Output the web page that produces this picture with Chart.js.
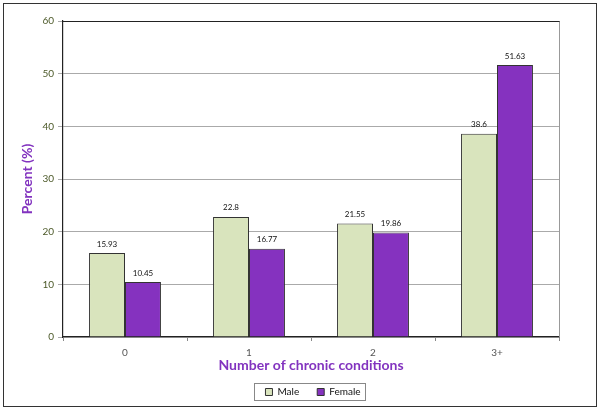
<!DOCTYPE html>
<html><head><meta charset="utf-8">
<script src="https://cdn.jsdelivr.net/npm/chart.js@4"></script>
<style>
html,body{margin:0;padding:0;background:#fff;}
#wrap{position:relative;width:600px;height:411px;}
#frame{position:absolute;left:3px;top:3px;width:592px;height:402px;border:1.5px solid #333;pointer-events:none;}
canvas{position:absolute;left:0;top:0;}
</style></head>
<body>
<div id="wrap"><canvas id="c" width="600" height="411"></canvas><div id="frame"></div></div>
<script>
const categories = ["0","1","2","3+"];
const maleValues = [15.93,22.8,21.55,38.6];
const femaleValues = [10.45,16.77,19.86,51.63];
const yTicks = [0,10,20,30,40,50,60];

const FONT = "Lato, 'Open Sans', sans-serif";
const LEG_PAD = 18;

const labelPlugin = {
  id:'labels',
  afterDatasetsDraw(chart){
    const ctx = chart.ctx;
    ctx.save();
    ctx.font = "8px " + FONT;
    ctx.fillStyle = "#111";
    ctx.textAlign = "center";
    ctx.textBaseline = "bottom";
    chart.data.datasets.forEach((ds,i)=>{
      chart.getDatasetMeta(i).data.forEach((bar,j)=>{
        ctx.fillText(String(ds.data[j]), bar.x, bar.y - 5);
      });
    });
    ctx.restore();
  }
};
const legendShift = {
  id:'legendShift',
  afterLayout(chart){
    const L = chart.legend, a = chart.chartArea;
    if (!L) return;
    const dx = (a.left + a.right)/2 + 2 - (L.left + L.right)/2;
    L.left += dx; L.right += dx;
  }
};
const framePlugin = {
  id:'frame',
  afterDraw(chart){
    const a = chart.chartArea, ctx = chart.ctx;
    ctx.save();
    ctx.strokeStyle = "#999"; ctx.lineWidth = 1;
    ctx.beginPath(); ctx.moveTo(a.right+0.5,a.top); ctx.lineTo(a.right+0.5,a.bottom); ctx.stroke();
    ctx.strokeStyle = "#222"; ctx.lineWidth = 1.2;
    ctx.beginPath(); ctx.moveTo(a.left,a.top+0.5); ctx.lineTo(a.right+0.5,a.top+0.5); ctx.stroke();
    const L = chart.legend, hb = L.legendHitBoxes;
    if (hb && hb.length){
      const itemsW = hb.reduce((s,b)=>s+b.width,0) + LEG_PAD*(hb.length-1);
      const cx = (L.left + L.right)/2;
      const x0 = cx - itemsW/2 - 11;
      const w = itemsW + 16;
      const yc = hb[0].top + hb[0].height/2;
      ctx.strokeStyle = "#888"; ctx.lineWidth = 1;
      ctx.strokeRect(Math.round(x0)+0.5, Math.round(yc-9)+0.5, Math.round(w), 17);
    }
    ctx.restore();
  }
};

new Chart(document.getElementById('c'), {
  type:'bar',
  data:{
    labels: categories,
    datasets:[
      {label:'Male', data: maleValues, backgroundColor:'#d9e4bd', borderColor:'#333', borderWidth:1},
      {label:'Female', data: femaleValues, backgroundColor:'#8532bf', borderColor:'#333', borderWidth:1}
    ]
  },
  options:{
    responsive:false, animation:false,
    layout:{padding:{left:15, top:21, right:41, bottom:4}},
    datasets:{bar:{categoryPercentage:0.58, barPercentage:1.0}},
    plugins:{
      legend:{
        position:'bottom',
        labels:{font:{family:FONT,size:10}, color:'#111', boxWidth:7, boxHeight:7, padding:LEG_PAD}
      },
      tooltip:{enabled:false}
    },
    scales:{
      x:{
        grid:{display:true, drawOnChartArea:false, drawTicks:true, tickLength:4, color:'#888', offset:true},
        border:{color:'#222', width:1.2},
        ticks:{font:{family:FONT,size:10}, color:'#555', padding:6},
        title:{display:true, text:'Number of chronic conditions', color:'#8233bf', font:{family:FONT,size:14,weight:'bold'}, padding:{top:0,bottom:-5}},
        afterFit(s){ s.height = 32; }
      },
      y:{
        min:0, max:60,
        afterBuildTicks(s){ s.ticks = yTicks.map(v=>({value:v})); },
        grid:{color:'#aaa', tickLength:5, drawTicks:true},
        border:{color:'#222', width:1.2},
        ticks:{font:{family:FONT,size:10}, color:'#4d5a2a', padding:4},
        title:{display:true, text:'Percent (%)', color:'#8233bf', font:{family:FONT,size:14,weight:'bold'}, padding:{bottom:10}},
        afterFit(s){ s.width = 48; }
      }
    }
  },
  plugins:[labelPlugin, legendShift, framePlugin]
});
</script>
</body></html>
